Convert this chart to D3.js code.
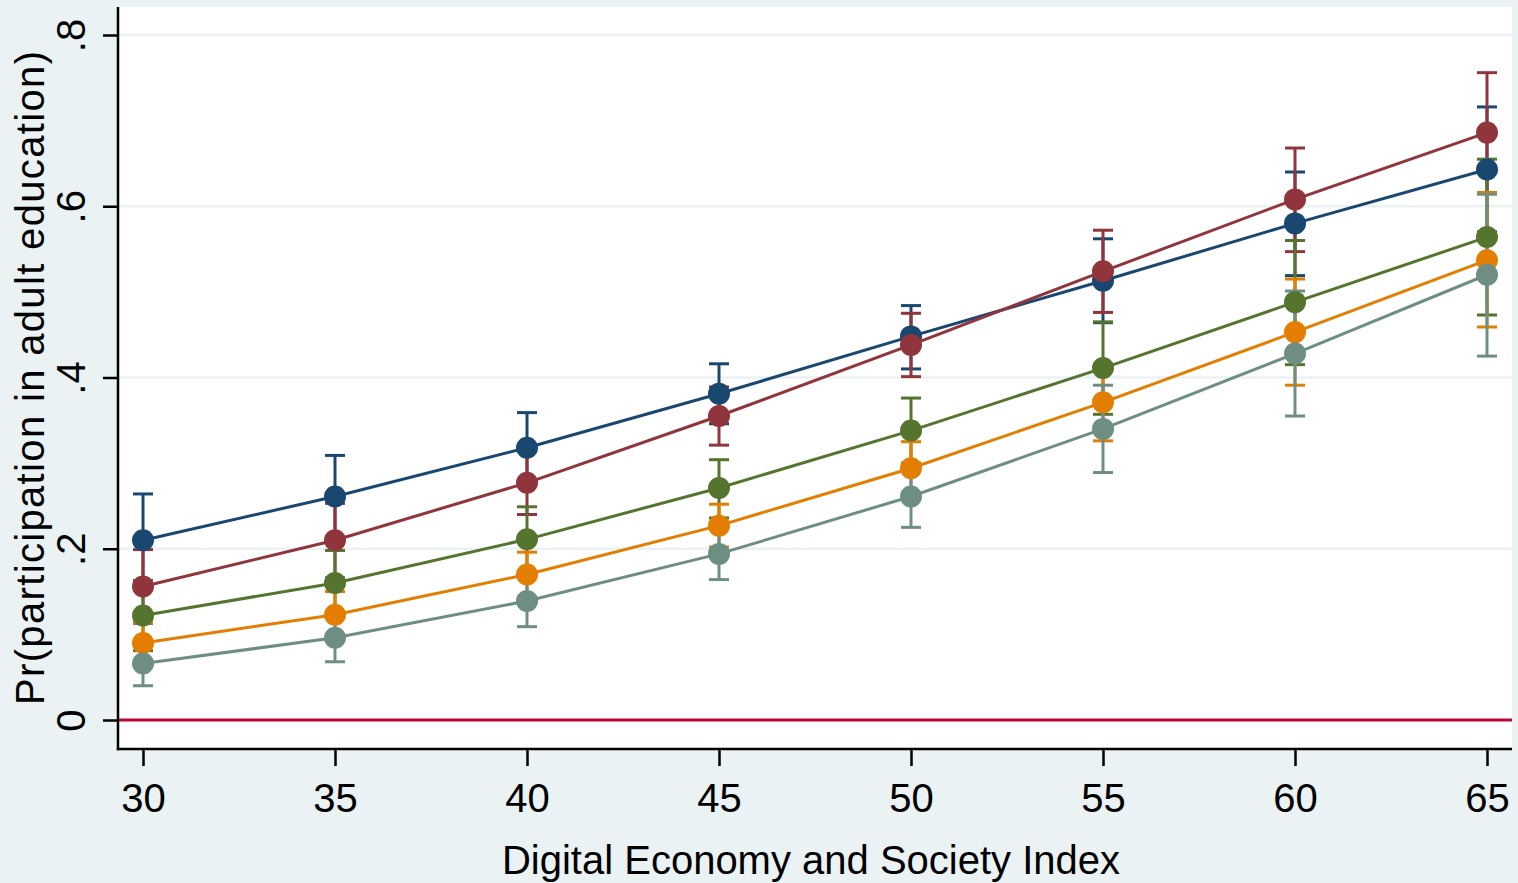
<!DOCTYPE html>
<html>
<head>
<meta charset="utf-8">
<script src="https://cdn.jsdelivr.net/npm/d3@7"></script>
<style>
  html, body { margin: 0; padding: 0; background: #EAF2F3; }
  svg { display: block; }
  text { font-family: "Liberation Sans", Arial, sans-serif; fill: #000; }
</style>
</head>
<body>
<svg id="chart" width="1518" height="883"></svg>
<script>
// ---- data ----
const desiValues = [30, 35, 40, 45, 50, 55, 60, 65];
const xTickLabels = ["30", "35", "40", "45", "50", "55", "60", "65"];
const yTickValues = [0, 0.2, 0.4, 0.6, 0.8];
const yTickLabels = ["0", ".2", ".4", ".6", ".8"];

const navyEst = [0.210, 0.261, 0.318, 0.381, 0.448, 0.513, 0.580, 0.643];
const navyLo  = [0.156, 0.213, 0.277, 0.346, 0.410, 0.464, 0.519, 0.570];
const navyHi  = [0.264, 0.309, 0.359, 0.416, 0.484, 0.562, 0.640, 0.716];

const maroonEst = [0.156, 0.210, 0.277, 0.355, 0.438, 0.524, 0.608, 0.686];
const maroonLo  = [0.113, 0.166, 0.240, 0.321, 0.401, 0.476, 0.547, 0.616];
const maroonHi  = [0.199, 0.253, 0.314, 0.389, 0.475, 0.572, 0.668, 0.756];

const greenEst = [0.122, 0.160, 0.211, 0.271, 0.338, 0.411, 0.488, 0.564];
const greenLo  = [0.081, 0.122, 0.173, 0.236, 0.300, 0.357, 0.415, 0.473];
const greenHi  = [0.163, 0.198, 0.249, 0.304, 0.376, 0.465, 0.560, 0.655];

const orangeEst = [0.090, 0.123, 0.170, 0.227, 0.294, 0.371, 0.453, 0.537];
const orangeLo  = [0.066, 0.096, 0.144, 0.202, 0.263, 0.326, 0.391, 0.459];
const orangeHi  = [0.114, 0.150, 0.196, 0.252, 0.325, 0.416, 0.515, 0.616];

const tealEst = [0.066, 0.096, 0.139, 0.194, 0.261, 0.340, 0.428, 0.520];
const tealLo  = [0.040, 0.068, 0.109, 0.164, 0.225, 0.289, 0.355, 0.425];
const tealHi  = [0.092, 0.124, 0.169, 0.224, 0.297, 0.391, 0.501, 0.614];

const seriesColors = ["#1A476F", "#90353B", "#55752F", "#E37E00", "#6E8E84"];

const xTitle = "Digital Economy and Society Index";
const yTitle = "Pr(participation in adult education)";

// ---- build ----
const series = [
  {est: navyEst, lo: navyLo, hi: navyHi},
  {est: maroonEst, lo: maroonLo, hi: maroonHi},
  {est: greenEst, lo: greenLo, hi: greenHi},
  {est: orangeEst, lo: orangeLo, hi: orangeHi},
  {est: tealEst, lo: tealLo, hi: tealHi}
].map((s, i) => ({
  color: seriesColors[i],
  pts: desiValues.map((x, j) => ({x, y: s.est[j], lo: s.lo[j], hi: s.hi[j]}))
}));

const svg = d3.select("#chart");
const region = {left: 118, right: 1512, top: 7, bottom: 749};

const x = d3.scaleLinear().domain([30, 65]).range([143, 1487]);
const y = d3.scaleLinear().domain([0, 0.8]).range([720, 35]);

// plot region
svg.append("rect")
  .attr("x", region.left).attr("y", region.top)
  .attr("width", region.right - region.left)
  .attr("height", region.bottom - region.top)
  .attr("fill", "#fff");

// gridlines
svg.append("g").selectAll("line")
  .data(yTickValues.filter(v => v > 0))
  .join("line")
  .attr("x1", region.left).attr("x2", region.right)
  .attr("y1", d => y(d)).attr("y2", d => y(d))
  .attr("stroke", "#EAF2F3").attr("stroke-width", 2.5);

// zero reference line
svg.append("line")
  .attr("x1", region.left).attr("x2", region.right)
  .attr("y1", y(0)).attr("y2", y(0))
  .attr("stroke", "#C10534").attr("stroke-width", 3);

// axes
const xAxis = d3.axisBottom(x).tickValues(desiValues)
  .tickFormat((d, i) => xTickLabels[i]).tickSize(17).tickPadding(18).tickSizeOuter(0);
const gx = svg.append("g").attr("transform", `translate(0,${region.bottom})`).call(xAxis);
gx.select(".domain").remove();
gx.selectAll(".tick line").attr("stroke", "#000").attr("stroke-width", 2.5);
gx.selectAll(".tick text").attr("font-size", 40).attr("font-family", "Liberation Sans, Arial, sans-serif")
  .attr("fill", "#000");

const yAxis = d3.axisLeft(y).tickValues(yTickValues)
  .tickFormat((d, i) => yTickLabels[i]).tickSize(15).tickSizeOuter(0);
const gy = svg.append("g").attr("transform", `translate(${region.left},0)`).call(yAxis);
gy.select(".domain").remove();
gy.selectAll(".tick line").attr("stroke", "#000").attr("stroke-width", 2.5);
gy.selectAll(".tick text")
  .attr("font-size", 40).attr("font-family", "Liberation Sans, Arial, sans-serif")
  .attr("fill", "#000")
  .attr("x", null).attr("dy", null)
  .attr("text-anchor", "middle")
  .attr("transform", "translate(-33,0) rotate(-90)");

// axis lines
svg.append("line").attr("x1", region.left).attr("x2", region.left)
  .attr("y1", region.top).attr("y2", region.bottom + 1.2)
  .attr("stroke", "#000").attr("stroke-width", 2.5);
svg.append("line").attr("x1", region.left - 1.2).attr("x2", region.right)
  .attr("y1", region.bottom).attr("y2", region.bottom)
  .attr("stroke", "#000").attr("stroke-width", 2.5);

// confidence intervals (all drawn first)
const capHalf = 10;
series.forEach(s => {
  const g = svg.append("g").attr("stroke", s.color).attr("stroke-width", 3).attr("fill", "none");
  g.selectAll("line.v").data(s.pts).join("line").attr("class", "v")
    .attr("x1", d => x(d.x)).attr("x2", d => x(d.x))
    .attr("y1", d => y(d.lo)).attr("y2", d => y(d.hi));
  g.selectAll("line.hc").data(s.pts).join("line").attr("class", "hc")
    .attr("x1", d => x(d.x) - capHalf).attr("x2", d => x(d.x) + capHalf)
    .attr("y1", d => y(d.hi)).attr("y2", d => y(d.hi));
  g.selectAll("line.lc").data(s.pts).join("line").attr("class", "lc")
    .attr("x1", d => x(d.x) - capHalf).attr("x2", d => x(d.x) + capHalf)
    .attr("y1", d => y(d.lo)).attr("y2", d => y(d.lo));
});

// connected lines + markers
const line = d3.line().x(d => x(d.x)).y(d => y(d.y));
series.forEach(s => {
  const g = svg.append("g");
  g.append("path").datum(s.pts).attr("d", line)
    .attr("fill", "none").attr("stroke", s.color).attr("stroke-width", 3);
  g.selectAll("circle").data(s.pts).join("circle")
    .attr("cx", d => x(d.x)).attr("cy", d => y(d.y)).attr("r", 11)
    .attr("fill", s.color);
});

// axis titles
svg.append("text")
  .attr("x", 811).attr("y", 874)
  .attr("text-anchor", "middle").attr("font-size", 40)
  .text(xTitle);

svg.append("text")
  .attr("transform", `translate(44,${378}) rotate(-90)`)
  .attr("text-anchor", "middle").attr("font-size", 40)
  .attr("textLength", 654).attr("lengthAdjust", "spacing")
  .text(yTitle);
</script>
</body>
</html>
